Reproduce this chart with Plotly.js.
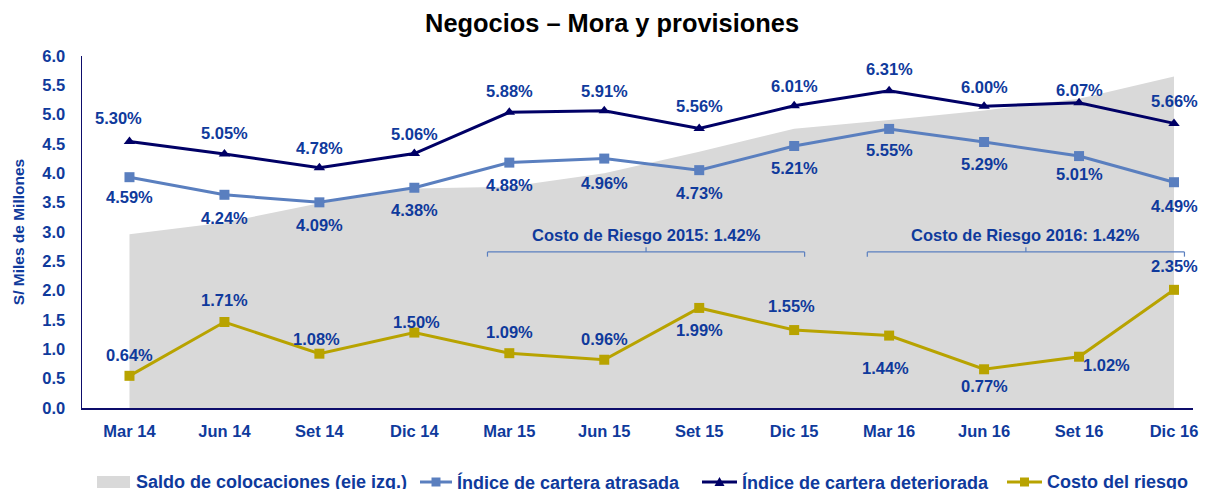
<!DOCTYPE html>
<html>
<head>
<meta charset="utf-8">
<script src="https://cdn.plot.ly/plotly-3.0.1.min.js"></script>
<style>html,body{margin:0;padding:0;background:#fff;}#chart{width:1212px;height:489px;}</style>
</head>
<body>
<div id="chart"></div>
<script>
// ---- Data ----
const categories = ["Mar 14","Jun 14","Set 14","Dic 14","Mar 15","Jun 15","Set 15","Dic 15","Mar 16","Jun 16","Set 16","Dic 16"];
const saldoColocaciones = [2.96, 3.16, 3.49, 3.74, 3.77, 4.00, 4.37, 4.76, 4.91, 5.07, 5.27, 5.65];
const carteraAtrasada = [4.59, 4.24, 4.09, 4.38, 4.88, 4.96, 4.73, 5.21, 5.55, 5.29, 5.01, 4.49];
const carteraDeteriorada = [5.30, 5.05, 4.78, 5.06, 5.88, 5.91, 5.56, 6.01, 6.31, 6.00, 6.07, 5.66];
const costoRiesgo = [0.64, 1.71, 1.08, 1.50, 1.09, 0.96, 1.99, 1.55, 1.44, 0.77, 1.02, 2.35];
const costoRiesgoAnual = [{year: "2015", value: 1.42, from: 4, to: 7}, {year: "2016", value: 1.42, from: 8, to: 11}];
const seriesNames = ["Saldo de colocaciones (eje izq.)", "Índice de cartera atrasada", "Índice de cartera deteriorada", "Costo del riesgo"];

// ---- Styling / label placement (not data) ----
const FONT = "Liberation Sans, Arial, Helvetica, sans-serif";
const BLUE_TXT = "#0f3a9c";
const C_AREA = "#d9d9d9", C_ATR = "#5a7fbf", C_DET = "#000066", C_COSTO = "#b8a300";
const detShiftY = [23, 21, 20, 20, 21, 20, 22, 20, 22, 19, 13, 22];
const detShiftX = [-11, 0, 0, 0, 0, 0, 0, 0, 0, 0, 0, 0];
const atrShiftY = [-20, -23, -23, -22, -22, -24, -23, -22, -21, -22, -18, -24];
const costoShiftY = [21, 22, 15, 11, 21, 21, -22, 24, -32, -17, -8, 24];
const costoShiftX = [0, 0, -3, 2, 0, 0, 0, -3, -4, 0, 27, 0];

const W = 1212, H = 489;
const M = {l: 82, r: 19, t: 56, b: 81};
const PW = W - M.l - M.r, PH = H - M.t - M.b;
const px2x = p => (p - M.l) / PW;
const py2y = p => (H - M.b - p) / PH;

const fmt = v => v.toFixed(2) + "%";

const traces = [
  {x: categories, y: saldoColocaciones, name: seriesNames[0], type: "scatter", mode: "lines",
   fill: "tozeroy", fillcolor: C_AREA, line: {width: 0, color: C_AREA}, yaxis: "y", hoverinfo: "skip"},
  {x: categories, y: carteraAtrasada, name: seriesNames[1], type: "scatter", mode: "lines+markers",
   line: {color: C_ATR, width: 3}, marker: {symbol: "square", size: 10, color: C_ATR}, yaxis: "y2"},
  {x: categories, y: carteraDeteriorada, name: seriesNames[2], type: "scatter", mode: "lines+markers",
   line: {color: C_DET, width: 3}, marker: {symbol: "triangle-up", size: 10, color: C_DET}, yaxis: "y2"},
  {x: categories, y: costoRiesgo, name: seriesNames[3], type: "scatter", mode: "lines+markers",
   line: {color: C_COSTO, width: 3}, marker: {symbol: "square", size: 10, color: C_COSTO}, yaxis: "y2"}
];

const labelFont = {family: FONT, size: 16.5, color: BLUE_TXT, weight: "bold"};
const annotations = [];
categories.forEach((c, i) => {
  annotations.push({x: i, y: carteraDeteriorada[i], xref: "x", yref: "y2", text: "<b>" + fmt(carteraDeteriorada[i]) + "</b>",
    showarrow: false, yshift: detShiftY[i], xshift: detShiftX[i], font: labelFont});
  annotations.push({x: i, y: carteraAtrasada[i], xref: "x", yref: "y2", text: "<b>" + fmt(carteraAtrasada[i]) + "</b>",
    showarrow: false, yshift: atrShiftY[i], font: labelFont});
  annotations.push({x: i, y: costoRiesgo[i], xref: "x", yref: "y2", text: "<b>" + fmt(costoRiesgo[i]) + "</b>",
    showarrow: false, yshift: costoShiftY[i], xshift: costoShiftX[i], font: labelFont});
});

const shapes = [];
const BR_Y = 2.66, BR_TXT_Y = 2.95;
costoRiesgoAnual.forEach(b => {
  const x0 = b.from - 0.23, x1 = b.to + 0.11, xm = (x0 + x1) / 2;
  const ln = {color: C_ATR, width: 1.2};
  shapes.push({type: "line", xref: "x", yref: "y", x0: x0, x1: x1, y0: BR_Y, y1: BR_Y, line: ln});
  shapes.push({type: "line", xref: "x", yref: "y", x0: x0, x1: x0, y0: BR_Y, y1: BR_Y - 0.08, line: ln});
  shapes.push({type: "line", xref: "x", yref: "y", x0: x1, x1: x1, y0: BR_Y, y1: BR_Y - 0.08, line: ln});
  shapes.push({type: "line", xref: "x", yref: "y", x0: xm, x1: xm, y0: BR_Y, y1: BR_Y + 0.08, line: ln});
  annotations.push({x: xm, y: BR_TXT_Y, xref: "x", yref: "y", showarrow: false,
    text: "<b>Costo de Riesgo " + b.year + ": " + b.value.toFixed(2) + "%</b>", font: labelFont});
});

// ---- Custom legend (pixel layout) ----
const LEG_Y = 482;
const legendItems = [
  {kind: "area", x0: 97, x1: 130, tx: 134, color: C_AREA},
  {kind: "square", x0: 420, x1: 452, tx: 455, color: C_ATR},
  {kind: "triangle", x0: 702, x1: 737, tx: 740, color: C_DET},
  {kind: "square", x0: 1007, x1: 1042, tx: 1045, color: C_COSTO}
];
legendItems.forEach((it, i) => {
  if (it.kind === "area") {
    shapes.push({type: "rect", xref: "paper", yref: "paper", x0: px2x(it.x0), x1: px2x(it.x1),
      y0: py2y(LEG_Y + 6), y1: py2y(LEG_Y - 6), fillcolor: it.color, line: {width: 0}, layer: "above"});
  } else {
    const xm = (it.x0 + it.x1) / 2;
    shapes.push({type: "line", xref: "paper", yref: "paper", x0: px2x(it.x0), x1: px2x(it.x1),
      y0: py2y(LEG_Y), y1: py2y(LEG_Y), line: {color: it.color, width: 3}});
    if (it.kind === "square") {
      shapes.push({type: "rect", xref: "paper", yref: "paper", x0: px2x(xm - 4.5), x1: px2x(xm + 4.5),
        y0: py2y(LEG_Y + 4.5), y1: py2y(LEG_Y - 4.5), fillcolor: it.color, line: {width: 0}});
    } else {
      const p = "M " + px2x(xm - 5) + " " + py2y(LEG_Y + 4) + " L " + px2x(xm + 5) + " " + py2y(LEG_Y + 4) +
                " L " + px2x(xm) + " " + py2y(LEG_Y - 5) + " Z";
      shapes.push({type: "path", xref: "paper", yref: "paper", path: p, fillcolor: it.color, line: {width: 0}});
    }
  }
  annotations.push({xref: "paper", yref: "paper", x: px2x(it.tx), y: py2y(LEG_Y), xanchor: "left", yanchor: "middle",
    showarrow: false, text: "<b>" + seriesNames[i] + "</b>", font: {family: FONT, size: 18, color: BLUE_TXT}});
});

const layout = {
  width: W, height: H,
  margin: M,
  paper_bgcolor: "#fff", plot_bgcolor: "rgba(0,0,0,0)",
  font: {family: FONT, color: BLUE_TXT},
  title: {text: "<b>Negocios – Mora y provisiones</b>", font: {family: FONT, size: 25.4, color: "#000"},
          x: 0.505, xanchor: "center", y: 0.953, yanchor: "middle", yref: "container"},
  showlegend: false,
  xaxis: {type: "category", range: [-0.5, 11.2], showgrid: false, zeroline: false,
          showline: true, linecolor: "#0d0d6b", linewidth: 1.5, ticks: "",
          tickfont: {family: FONT, size: 16.5, color: BLUE_TXT, weight: "bold"}, ticklabelstandoff: 8},
  yaxis: {range: [0, 6], dtick: 0.5, tickformat: ".1f", showgrid: false, zeroline: false,
          showline: true, linecolor: "#0d0d6b", linewidth: 1.5, ticks: "",
          tickfont: {family: FONT, size: 16.5, color: BLUE_TXT, weight: "bold"}, ticklabelstandoff: 12,
          title: {text: "<b>S/ Miles de Millones</b>", font: {family: FONT, size: 15.5, color: BLUE_TXT}, standoff: 14}},
  yaxis2: {range: [0, 7], overlaying: "y", side: "right", visible: false, showgrid: false, zeroline: false},
  annotations: annotations,
  shapes: shapes
};

Plotly.newPlot("chart", traces, layout, {displayModeBar: false, staticPlot: true});
</script>
</body>
</html>
